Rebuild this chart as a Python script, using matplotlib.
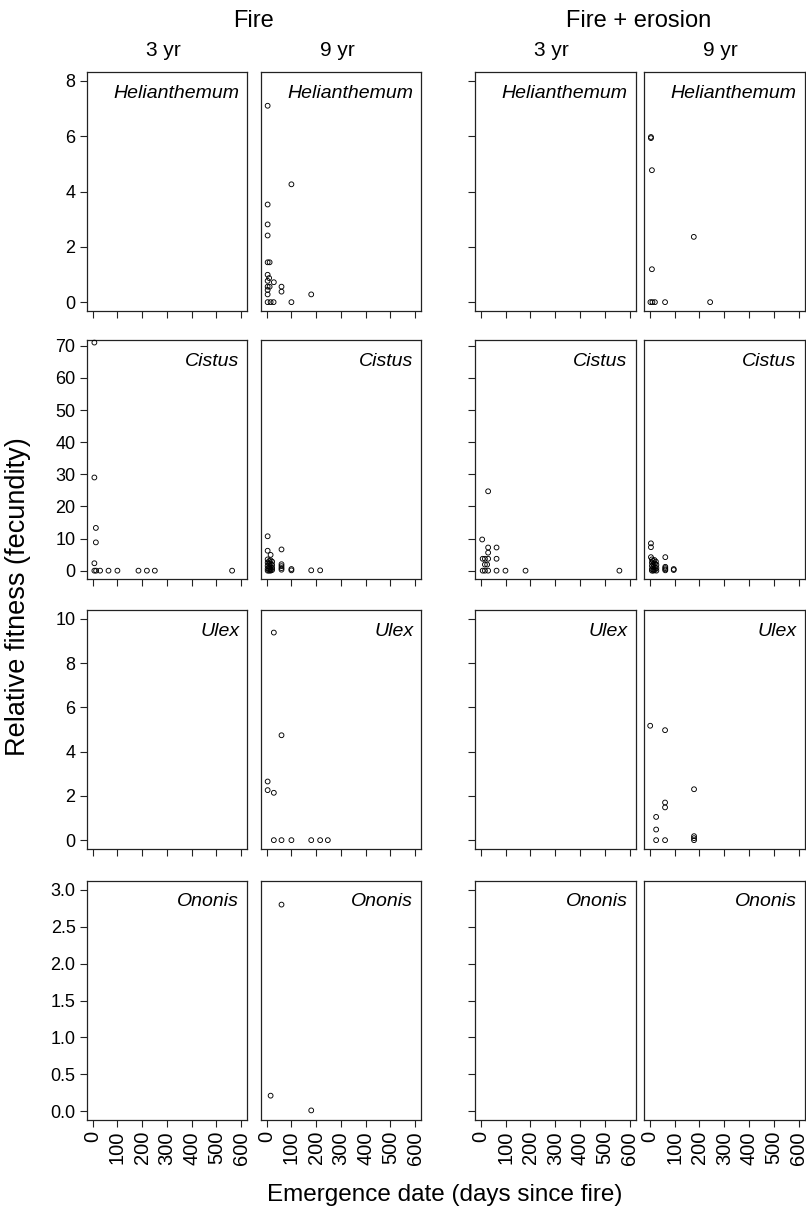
import matplotlib
matplotlib.use("Agg")
import matplotlib.pyplot as plt
import numpy as np

plt.rcParams["font.family"] = ["Liberation Sans", "DejaVu Sans"]

# ---------------- DATA ----------------
species = ["Helianthemum", "Cistus", "Ulex", "Ononis"]
treatments = ["Fire", "Fire + erosion"]
ages = ["3 yr", "9 yr", "3 yr", "9 yr"]

y_ticks = [
    [0, 2, 4, 6, 8],
    [0, 10, 20, 30, 40, 50, 60, 70],
    [0, 2, 4, 6, 8, 10],
    [0.0, 0.5, 1.0, 1.5, 2.0, 2.5, 3.0],
]
y_limits = [(-0.32, 8.32), (-2.6, 71.8), (-0.4, 10.4), (-0.12, 3.12)]
x_ticks = [0, 100, 200, 300, 400, 500, 600]

# Helianthemum
hel_f9_days = [4, 100, 4, 4, 4, 4, 12, 4, 10, 4, 29, 4, 4, 12, 60, 60, 180, 4, 4, 16, 28, 100]
hel_f9_fit = [7.1, 4.26, 3.53, 2.81, 2.41, 1.44, 1.44, 0.99, 0.87, 0.77, 0.72, 0.56, 0.44,
              0.56, 0.56, 0.38, 0.28, 0.28, 0, 0, 0, 0]
hel_fe9_days = [4, 4, 8, 177, 8, 2, 10, 20, 61, 243]
hel_fe9_fit = [5.97, 5.93, 4.77, 2.36, 1.19, 0, 0, 0, 0, 0]

# Cistus
cis_f3_days = [7, 7, 13, 13, 7, 7, 14, 30, 64, 100, 185, 219, 251, 563]
cis_f3_fit = [71, 29, 13.3, 8.8, 2.3, 0, 0, 0, 0, 0, 0, 0, 0, 0]
cis_f9_days = [4, 4, 60, 16, 4, 10, 16, 22, 4, 10, 16, 22, 4, 10, 16, 22, 4, 10, 16, 22,
               4, 10, 16, 60, 60, 60, 60, 100, 100, 180, 216]
cis_f9_fit = [10.7, 6.2, 6.6, 4.9, 3.5, 3.0, 3.2, 2.8, 2.5, 2.2, 2.0, 1.8, 1.5, 1.2, 1.0, 0.9,
              0.6, 0.5, 0.3, 0.2, 0, 0, 0, 2.0, 1.4, 0.8, 0.3, 0.5, 0.1, 0.1, 0.1]
cis_fe3_days = [5, 29, 29, 63, 29, 7, 16, 29, 63, 16, 25, 7, 16, 29, 63, 99, 180, 559]
cis_fe3_fit = [9.7, 24.7, 7.2, 7.2, 5.6, 3.7, 3.7, 3.7, 3.7, 1.9, 1.9, 0, 0, 0, 0, 0, 0, 0]
cis_fe9_days = [4, 4, 4, 62, 8, 12, 18, 24, 8, 14, 20, 26, 8, 14, 20, 26, 8, 14, 20, 26,
                8, 14, 62, 62, 62, 62, 96, 96]
cis_fe9_fit = [8.5, 7.3, 4.2, 4.2, 3.5, 3.0, 3.3, 2.8, 2.5, 2.0, 2.2, 1.8, 1.5, 1.2, 1.0, 0.8,
               0.5, 0.3, 0.2, 0.0, 0, 0, 1.2, 0.8, 0.4, 0.1, 0.5, 0.2]

# Ulex
ulex_f9_days = [29, 60, 4, 4, 29, 29, 60, 100, 180, 216, 247]
ulex_f9_fit = [9.38, 4.74, 2.65, 2.26, 2.14, 0, 0, 0, 0, 0, 0]
ulex_fe9_days = [1, 61, 178, 61, 61, 25, 25, 25, 61, 178, 178, 178]
ulex_fe9_fit = [5.17, 4.97, 2.30, 1.70, 1.48, 1.05, 0.48, 0, 0, 0.18, 0.09, 0]

# Ononis
onon_f9_days = [60, 16, 180]
onon_f9_fit = [2.8, 0.21, 0.01]

# panels: row = species, column = treatment/age
panel_data = {
    (0, 1): (hel_f9_days, hel_f9_fit),
    (0, 3): (hel_fe9_days, hel_fe9_fit),
    (1, 0): (cis_f3_days, cis_f3_fit),
    (1, 1): (cis_f9_days, cis_f9_fit),
    (1, 2): (cis_fe3_days, cis_fe3_fit),
    (1, 3): (cis_fe9_days, cis_fe9_fit),
    (2, 1): (ulex_f9_days, ulex_f9_fit),
    (2, 3): (ulex_fe9_days, ulex_fe9_fit),
    (3, 1): (onon_f9_days, onon_f9_fit),
}

# ---------------- LAYOUT ----------------
W, H = 806, 1213
fig = plt.figure(figsize=(W / 100, H / 100), dpi=100)

col_left = [86.7, 260.7, 475, 644]
col_w = 160.5
row_top = [72, 340, 610, 881]
row_h = 239

for r in range(4):
    for c in range(4):
        ax = fig.add_axes([col_left[c] / W, 1 - (row_top[r] + row_h) / H, col_w / W, row_h / H])
        if (r, c) in panel_data:
            xs, ys = panel_data[(r, c)]
            ax.scatter(xs, ys, s=12, facecolors="none", edgecolors="black", linewidths=0.65,
                       clip_on=False, zorder=3)
        ax.set_xlim(-24, 624)
        ax.set_ylim(*y_limits[r])
        ax.set_xticks(x_ticks)
        ax.set_yticks(y_ticks[r])
        for sp in ax.spines.values():
            sp.set_linewidth(0.9)
            sp.set_color("#222222")
        ax.tick_params(direction="out", length=5, width=0.8, color="#222222",
                       labelsize=13, pad=3)
        if r == 3:
            ax.set_xticklabels([str(v) for v in x_ticks], rotation=90, fontsize=14.5)
        else:
            ax.set_xticklabels([])
        if c == 0:
            if r == 3:
                ax.set_yticklabels(["%.1f" % v for v in y_ticks[r]])
            else:
                ax.set_yticklabels([str(v) for v in y_ticks[r]])
        elif c == 2:
            ax.set_yticklabels([])
        else:
            ax.tick_params(axis="y", left=False, labelleft=False)
        ax.text(1 - 8 / col_w, 1 - 21 / row_h, species[r], transform=ax.transAxes,
                ha="right", va="center", fontsize=14, style="italic")

# column headers
fig.text(254 / W, 1 - 21 / H, treatments[0], ha="center", va="center", fontsize=17)
fig.text(639 / W, 1 - 21 / H, treatments[1], ha="center", va="center", fontsize=17)
for c in range(4):
    fig.text((col_left[c] + col_w / 2 - 4) / W, 1 - 50 / H, ages[c],
             ha="center", va="center", fontsize=15)

fig.text(445 / W, 1 - 1195 / H, "Emergence date (days since fire)",
         ha="center", va="center", fontsize=17.5)
fig.text(18 / W, 1 - 597 / H, "Relative fitness (fecundity)",
         ha="center", va="center", rotation=90, fontsize=19.5)

fig.savefig("out.png", dpi=100)
